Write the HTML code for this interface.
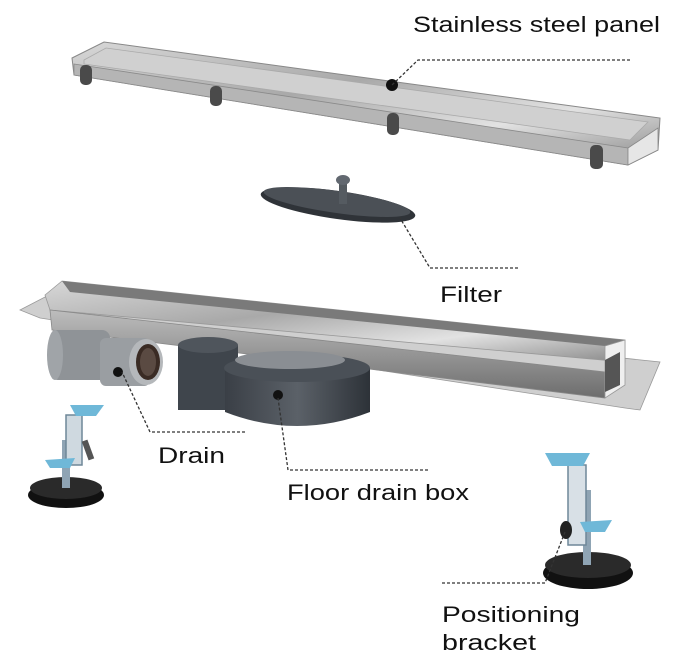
<!DOCTYPE html>
<html><head><meta charset="utf-8"><style>
html,body{margin:0;padding:0;background:#fff;}
svg{display:block}
text{font-family:"Liberation Sans",sans-serif;fill:#111;font-size:22px}
</style></head><body>
<svg width="674" height="658" viewBox="0 0 674 658" xmlns="http://www.w3.org/2000/svg">
<defs>
<linearGradient id="steel" x1="0" y1="0" x2="1" y2="1">
<stop offset="0" stop-color="#d8d8d8"/><stop offset="0.4" stop-color="#a9a9a9"/><stop offset="0.7" stop-color="#e2e2e2"/><stop offset="1" stop-color="#8a8a8a"/>
</linearGradient>
<linearGradient id="steel2" x1="0" y1="0" x2="0" y2="1">
<stop offset="0" stop-color="#bdbdbd"/><stop offset="1" stop-color="#6d6d6d"/>
</linearGradient>
<linearGradient id="dark" x1="0" y1="0" x2="1" y2="0">
<stop offset="0" stop-color="#3a3f46"/><stop offset="0.5" stop-color="#5b6168"/><stop offset="1" stop-color="#2d3238"/>
</linearGradient>
</defs>

<!-- top panel -->
<polygon points="72,58 104,42 660,118 658,150 628,165 74,75" fill="url(#steel)" stroke="#888" stroke-width="1"/>
<polygon points="84,60 106,48 648,122 630,140 84,64" fill="#d0d0d0" stroke="#aaa" stroke-width="0.8"/>
<polygon points="74,64 628,148 628,165 74,75" fill="#b5b5b5" stroke="#8a8a8a" stroke-width="0.8"/>
<polygon points="628,148 658,128 658,150 628,165" fill="#e6e6e6" stroke="#888" stroke-width="0.8"/>
<rect x="80" y="65" width="12" height="20" rx="5" fill="#4a4a4a"/>
<rect x="210" y="86" width="12" height="20" rx="5" fill="#4a4a4a"/>
<rect x="387" y="113" width="12" height="22" rx="5" fill="#4a4a4a"/>
<rect x="590" y="145" width="13" height="24" rx="5" fill="#4a4a4a"/>
<circle cx="392" cy="85" r="6" fill="#111"/>

<!-- filter -->
<ellipse cx="338" cy="205" rx="78" ry="14" transform="rotate(8 338 205)" fill="#2f3338"/>
<ellipse cx="337" cy="202" rx="74" ry="11" transform="rotate(8 337 202)" fill="#4b5056"/>
<rect x="339" y="182" width="8" height="22" fill="#555b61"/>
<ellipse cx="343" cy="180" rx="7" ry="5" fill="#626870"/>

<!-- bottom channel -->
<polygon points="20,310 45,297 660,362 640,410 625,408 40,318" fill="#cfcfcf" stroke="#999" stroke-width="0.8"/>
<polygon points="45,295 62,281 625,340 625,362 50,310" fill="url(#steel)" stroke="#999" stroke-width="0.8"/>
<polygon points="62,281 625,340 605,346 70,292" fill="#7a7a7a"/>
<polygon points="50,310 605,372 605,398 52,330" fill="url(#steel2)" stroke="#888" stroke-width="0.8"/>
<polygon points="605,346 625,340 625,385 605,398" fill="#efefef" stroke="#999" stroke-width="0.8"/>
<polygon points="605,360 620,352 620,385 605,392" fill="#555"/>

<!-- floor drain box -->
<rect x="178" y="345" width="60" height="65" fill="#3f454c"/>
<ellipse cx="208" cy="345" rx="30" ry="8" fill="#4f555c"/>
<path d="M225 368 L370 368 L370 412 Q297 440 225 412 Z" fill="url(#dark)"/>
<ellipse cx="297" cy="368" rx="73" ry="14" fill="#4a5057"/>
<ellipse cx="290" cy="360" rx="55" ry="9" fill="#8a8e93"/>
<circle cx="278" cy="395" r="5" fill="#111"/>

<!-- drain pipe -->
<rect x="50" y="330" width="60" height="50" rx="8" fill="#8f9397"/>
<ellipse cx="55" cy="355" rx="8" ry="25" fill="#a0a4a8"/>
<rect x="100" y="338" width="50" height="48" rx="6" fill="#9a9ea2"/>
<ellipse cx="146" cy="362" rx="17" ry="23" fill="#b5b8bb"/>
<ellipse cx="148" cy="362" rx="12" ry="18" fill="#3a2b24"/>
<ellipse cx="148" cy="362" rx="8" ry="14" fill="#5a4a42"/>
<circle cx="118" cy="372" r="5" fill="#111"/>

<!-- left bracket -->
<ellipse cx="66" cy="495" rx="38" ry="13" fill="#111"/>
<ellipse cx="66" cy="488" rx="36" ry="11" fill="#2a2a2a"/>
<rect x="62" y="440" width="8" height="48" fill="#8fa4b4"/>
<rect x="66" y="415" width="16" height="50" fill="#cfd9e0" stroke="#6f8798" stroke-width="1.5"/>
<polygon points="70,405 104,405 96,416 76,416" fill="#6fb8d8"/>
<polygon points="45,460 75,458 70,468 50,468" fill="#6fb8d8"/>
<rect x="85" y="440" width="6" height="20" fill="#555" transform="rotate(-20 88 450)"/>

<!-- right bracket -->
<ellipse cx="588" cy="573" rx="45" ry="16" fill="#111"/>
<ellipse cx="588" cy="565" rx="43" ry="13" fill="#2a2a2a"/>
<rect x="583" y="490" width="8" height="75" fill="#8fa4b4"/>
<rect x="568" y="465" width="18" height="80" fill="#d8e0e6" stroke="#6f8798" stroke-width="1.5"/>
<polygon points="545,453 590,453 583,466 552,466" fill="#6fb8d8"/>
<polygon points="580,522 612,520 605,532 585,532" fill="#6fb8d8"/>
<ellipse cx="566" cy="530" rx="6" ry="9" fill="#222"/>

<!-- leader lines -->
<g fill="none" stroke="#333" stroke-width="1.3" stroke-dasharray="3,2">
<polyline points="630,60 418,60 392,85"/>
<polyline points="518,268 430,268 400,218"/>
<polyline points="245,432 150,432 122,372"/>
<polyline points="428,470 288,470 278,398"/>
<polyline points="442,583 545,583 565,532"/>
</g>

<text x="413" y="32" textLength="247" lengthAdjust="spacingAndGlyphs">Stainless steel panel</text>
<text x="440" y="302" textLength="62" lengthAdjust="spacingAndGlyphs">Filter</text>
<text x="158" y="463" textLength="67" lengthAdjust="spacingAndGlyphs">Drain</text>
<text x="287" y="500" textLength="182" lengthAdjust="spacingAndGlyphs">Floor drain box</text>
<text x="442" y="622" textLength="138" lengthAdjust="spacingAndGlyphs">Positioning</text>
<text x="442" y="650" textLength="94" lengthAdjust="spacingAndGlyphs">bracket</text>
</svg>
</body></html>
